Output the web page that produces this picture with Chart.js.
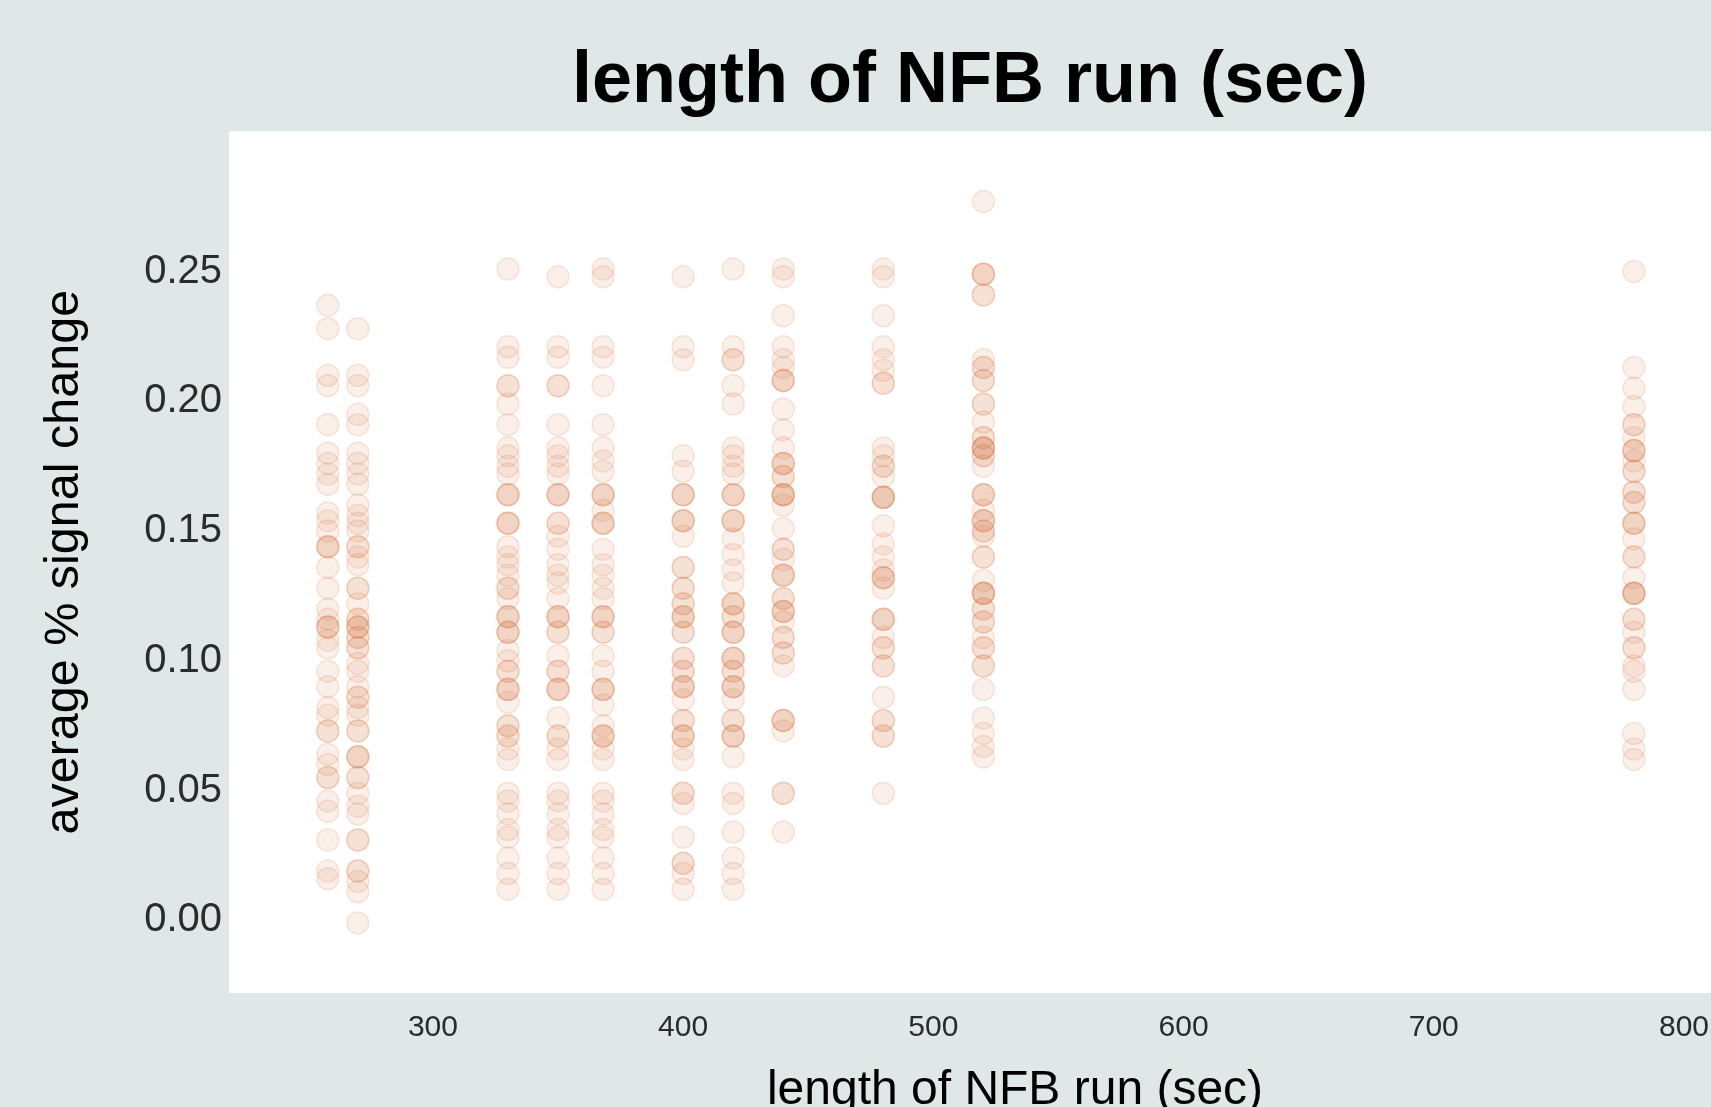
<!DOCTYPE html>
<html>
<head>
<meta charset="utf-8">
<script src="https://cdn.jsdelivr.net/npm/chart.js@4.4.0/dist/chart.umd.min.js"></script>
<style>
  html, body { margin: 0; padding: 0; background: #dfe8e6; }
  #wrap { position: relative; width: 1711px; height: 1107px; }
</style>
</head>
<body>
<div id="wrap"><canvas id="chart"></canvas></div>
<script>
// run lengths (sec) for each column of points
const runLengths = [258, 270, 330, 350, 368, 400, 420, 440, 480, 520, 780];

// average % signal change, one list per run length
const signal258 = [0.237, 0.228, 0.210, 0.206, 0.191, 0.180, 0.176, 0.172, 0.168, 0.157, 0.154, 0.150, 0.144, 0.144, 0.144, 0.136, 0.128, 0.120, 0.116, 0.113, 0.113, 0.113, 0.108, 0.105, 0.096, 0.090, 0.082, 0.079, 0.073, 0.073, 0.064, 0.060, 0.055, 0.055, 0.046, 0.042, 0.031, 0.019, 0.016];
const signal270 = [0.228, 0.210, 0.206, 0.195, 0.191, 0.180, 0.176, 0.172, 0.168, 0.160, 0.156, 0.153, 0.150, 0.144, 0.144, 0.140, 0.137, 0.128, 0.128, 0.122, 0.116, 0.116, 0.113, 0.113, 0.113, 0.109, 0.109, 0.105, 0.105, 0.099, 0.096, 0.090, 0.086, 0.086, 0.082, 0.079, 0.073, 0.073, 0.063, 0.063, 0.063, 0.055, 0.055, 0.049, 0.044, 0.041, 0.031, 0.031, 0.019, 0.019, 0.015, 0.011, -0.001];
const signal330 = [0.251, 0.221, 0.217, 0.206, 0.206, 0.199, 0.191, 0.182, 0.179, 0.175, 0.172, 0.164, 0.164, 0.164, 0.153, 0.153, 0.153, 0.144, 0.140, 0.137, 0.133, 0.128, 0.128, 0.124, 0.117, 0.117, 0.117, 0.111, 0.111, 0.111, 0.104, 0.100, 0.096, 0.096, 0.089, 0.089, 0.089, 0.084, 0.075, 0.075, 0.071, 0.071, 0.066, 0.062, 0.049, 0.046, 0.041, 0.035, 0.032, 0.024, 0.018, 0.012];
const signal350 = [0.248, 0.221, 0.217, 0.206, 0.206, 0.191, 0.182, 0.179, 0.175, 0.172, 0.164, 0.164, 0.164, 0.153, 0.153, 0.148, 0.143, 0.137, 0.133, 0.130, 0.124, 0.117, 0.117, 0.117, 0.111, 0.111, 0.102, 0.096, 0.096, 0.089, 0.089, 0.089, 0.078, 0.071, 0.071, 0.066, 0.062, 0.049, 0.046, 0.041, 0.035, 0.032, 0.024, 0.018, 0.012];
const signal368 = [0.251, 0.248, 0.221, 0.217, 0.206, 0.191, 0.182, 0.177, 0.173, 0.164, 0.164, 0.164, 0.158, 0.153, 0.153, 0.153, 0.143, 0.137, 0.133, 0.128, 0.124, 0.117, 0.117, 0.117, 0.111, 0.111, 0.102, 0.096, 0.089, 0.089, 0.089, 0.083, 0.075, 0.071, 0.071, 0.071, 0.066, 0.062, 0.049, 0.046, 0.041, 0.035, 0.032, 0.024, 0.018, 0.012];
const signal400 = [0.248, 0.221, 0.216, 0.179, 0.173, 0.164, 0.164, 0.164, 0.154, 0.154, 0.154, 0.148, 0.136, 0.136, 0.128, 0.128, 0.122, 0.122, 0.117, 0.117, 0.117, 0.111, 0.111, 0.101, 0.101, 0.096, 0.096, 0.090, 0.090, 0.090, 0.085, 0.077, 0.077, 0.071, 0.071, 0.071, 0.066, 0.062, 0.049, 0.049, 0.045, 0.032, 0.022, 0.022, 0.018, 0.012];
const signal420 = [0.251, 0.221, 0.216, 0.216, 0.206, 0.199, 0.182, 0.179, 0.175, 0.172, 0.164, 0.164, 0.164, 0.154, 0.154, 0.154, 0.147, 0.141, 0.135, 0.130, 0.122, 0.122, 0.122, 0.117, 0.117, 0.111, 0.111, 0.111, 0.101, 0.101, 0.101, 0.096, 0.096, 0.090, 0.090, 0.090, 0.085, 0.077, 0.077, 0.071, 0.071, 0.071, 0.063, 0.049, 0.045, 0.034, 0.024, 0.018, 0.012];
const signal440 = [0.251, 0.248, 0.233, 0.221, 0.216, 0.213, 0.208, 0.208, 0.208, 0.197, 0.189, 0.182, 0.176, 0.176, 0.176, 0.171, 0.171, 0.164, 0.164, 0.164, 0.164, 0.160, 0.151, 0.143, 0.143, 0.139, 0.133, 0.133, 0.133, 0.124, 0.124, 0.119, 0.119, 0.119, 0.115, 0.109, 0.109, 0.103, 0.103, 0.098, 0.077, 0.077, 0.077, 0.073, 0.049, 0.049, 0.034];
const signal480 = [0.251, 0.248, 0.233, 0.221, 0.216, 0.212, 0.207, 0.207, 0.182, 0.179, 0.175, 0.175, 0.171, 0.163, 0.163, 0.163, 0.163, 0.152, 0.145, 0.140, 0.135, 0.132, 0.132, 0.132, 0.128, 0.116, 0.116, 0.116, 0.109, 0.105, 0.105, 0.098, 0.098, 0.086, 0.077, 0.077, 0.071, 0.071, 0.049];
const signal520 = [0.277, 0.249, 0.249, 0.249, 0.241, 0.241, 0.216, 0.213, 0.213, 0.208, 0.208, 0.199, 0.199, 0.192, 0.186, 0.186, 0.182, 0.182, 0.182, 0.182, 0.179, 0.179, 0.175, 0.164, 0.164, 0.164, 0.158, 0.154, 0.154, 0.154, 0.150, 0.150, 0.148, 0.140, 0.140, 0.131, 0.126, 0.126, 0.126, 0.126, 0.120, 0.120, 0.115, 0.115, 0.109, 0.105, 0.105, 0.098, 0.098, 0.089, 0.078, 0.072, 0.067, 0.063];
const signal780 = [0.250, 0.213, 0.205, 0.198, 0.191, 0.191, 0.186, 0.181, 0.181, 0.181, 0.177, 0.173, 0.173, 0.165, 0.165, 0.161, 0.161, 0.153, 0.153, 0.153, 0.147, 0.140, 0.140, 0.132, 0.126, 0.126, 0.126, 0.126, 0.116, 0.116, 0.111, 0.105, 0.105, 0.098, 0.096, 0.089, 0.072, 0.066, 0.062];

const signalByRun = [signal258, signal270, signal330, signal350, signal368, signal400, signal420, signal440, signal480, signal520, signal780];

// tick labels
const xTicks = [300, 400, 500, 600, 700, 800];
const yTicks = [0, 0.05, 0.10, 0.15, 0.20, 0.25];

const titleText = "length of NFB run (sec)";
const xAxisTitle = "length of NFB run (sec)";
const yAxisTitle = "average % signal change";

const points = [];
runLengths.forEach((len, i) => {
    signalByRun[i].forEach(v => points.push({ x: len, y: v }));
});

const bgColor = "#dfe8e6";
const fontFamily = '"Liberation Sans", Arial, sans-serif';

const backgroundPlugin = {
    id: "panelBackground",
    beforeDraw(chart) {
        const { ctx, chartArea } = chart;
        ctx.save();
        ctx.fillStyle = bgColor;
        ctx.fillRect(0, 0, chart.width, chart.height);
        ctx.fillStyle = "#ffffff";
        ctx.fillRect(chartArea.left, chartArea.top, chartArea.right - chartArea.left, chartArea.bottom - chartArea.top);
        ctx.restore();
    }
};

// x axis title sits a bit right of the plot centre in the original
const xTitlePlugin = {
    id: "xTitle",
    afterDraw(chart) {
        const { ctx, chartArea } = chart;
        ctx.save();
        ctx.font = "48px " + fontFamily;
        ctx.fillStyle = "#000";
        ctx.textAlign = "center";
        ctx.textBaseline = "alphabetic";
        ctx.fillText(xAxisTitle, (chartArea.left + chartArea.right) / 2 + 45, chart.height - 3);
        ctx.restore();
    }
};

const ctx = document.getElementById("chart").getContext("2d");
new Chart(ctx, {
    type: "scatter",
    data: {
        datasets: [{
            label: "signal",
            data: points,
            backgroundColor: "rgba(215, 120, 70, 0.12)",
            borderColor: "rgba(215, 120, 70, 0.16)",
            borderWidth: 1.5,
            pointRadius: 11,
            pointHoverRadius: 11,
        }],
    },
    options: {
        responsive: true,
        maintainAspectRatio: false,
        animation: false,
        events: [],
        layout: { padding: 0, autoPadding: false },
        plugins: {
            legend: { display: false },
            tooltip: { enabled: false },
            title: {
                display: true,
                text: titleText,
                fullSize: false,
                color: "#000",
                font: { family: fontFamily, size: 72, weight: "bold" },
                padding: { top: 39, bottom: 6 },
            },
        },
        scales: {
            x: {
                type: "linear",
                min: 218.5,
                max: 810.8,
                grid: { display: false, drawTicks: false },
                border: { display: false },
                ticks: {
                    padding: 17,
                    color: "#2b2b2b",
                    font: { family: fontFamily, size: 30 },
                    maxRotation: 0,
                    autoSkip: false,
                },
                afterBuildTicks(scale) { scale.ticks = xTicks.map(v => ({ value: v })); },
                afterFit(scale) {
                    scale.height = 114;
                    // plot runs to the right edge of the figure
                    scale.paddingLeft = 0;
                    scale.paddingRight = 0;
                },
            },
            y: {
                type: "linear",
                min: -0.028,
                max: 0.304,
                grid: { display: false, drawTicks: false },
                border: { display: false },
                ticks: {
                    padding: 7,
                    color: "#2b2b2b",
                    font: { family: fontFamily, size: 40 },
                    autoSkip: false,
                    callback: (v) => Number(v).toFixed(2),
                },
                afterBuildTicks(scale) { scale.ticks = yTicks.map(v => ({ value: v })); },
                title: {
                    display: true,
                    text: yAxisTitle,
                    color: "#000",
                    font: { family: fontFamily, size: 48.5 },
                    padding: { top: 36, bottom: 0 },
                },
                afterFit(scale) { scale.width = 229; },
            },
        },
    },
    plugins: [backgroundPlugin, xTitlePlugin],
});
</script>
</body>
</html>
